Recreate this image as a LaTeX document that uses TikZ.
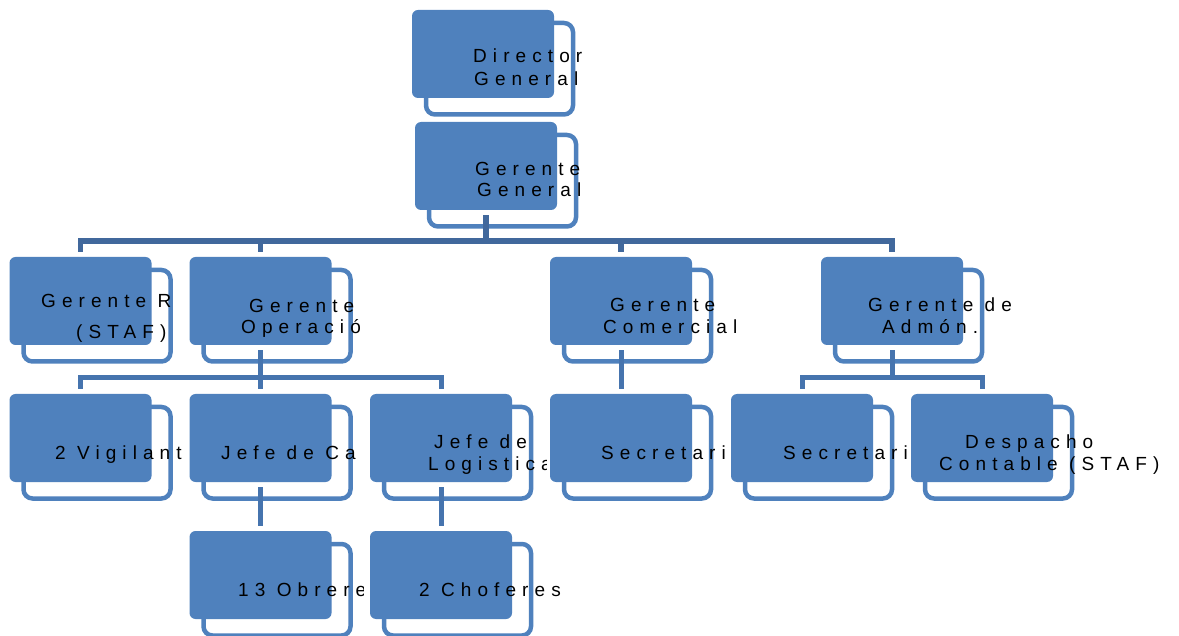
\documentclass[tikz,border=0pt]{standalone}
\usepackage{fontspec}
\newfontfamily\letrero[LetterSpace=32]{Liberation Sans}
\definecolor{cajaazul}{RGB}{79,129,189}
\definecolor{lineaosc}{RGB}{65,104,156}
\definecolor{lineaazul}{RGB}{70,116,174}
\tikzset{
  frente/.style={fill=cajaazul, rounded corners=6pt, minimum width=142pt, minimum height=88pt, inner sep=0pt},
  marco/.style={draw=cajaazul, fill=white, line width=4.5pt, rounded corners=9pt, minimum width=147pt, minimum height=91.5pt, inner sep=0pt},
  rama1/.style={draw=lineaosc, line width=5.5pt, shorten <=5pt, shorten >=5pt},
  rama/.style={draw=lineaazul, line width=5pt, shorten <=5pt, shorten >=5pt},
  texto/.style={anchor=base west, inner sep=0pt, text=black, font=\letrero\fontsize{19}{22}\selectfont}
}
\begin{document}
\begin{tikzpicture}[x=1pt, y=-1pt]
		\useasboundingbox (0,0) rectangle (1179,636);
		% cajas
		\node[marco] (directorm) at (499.5,68.75) {};
		\node[frente] (director) at (483,54) {};
		\node[marco] (gerentem) at (502.5,180.75) {};
		\node[frente] (gerente) at (486,166) {};
		\node[marco] (grhm) at (97,315.75) {};
		\node[frente] (grh) at (80.5,301) {};
		\node[marco] (gopm) at (277,315.75) {};
		\node[frente] (gop) at (260.5,301) {};
		\node[marco] (gcomm) at (637.5,315.75) {};
		\node[frente] (gcom) at (621,301) {};
		\node[marco] (gadmm) at (908.5,315.75) {};
		\node[frente] (gadm) at (892,301) {};
		\node[marco] (vigm) at (97,452.75) {};
		\node[frente] (vig) at (80.5,438) {};
		\node[marco] (jcamm) at (277,452.75) {};
		\node[frente] (jcam) at (260.5,438) {};
		\node[marco] (jlogm) at (457.5,452.75) {};
		\node[frente] (jlog) at (441,438) {};
		\node[marco] (seccomm) at (637.5,452.75) {};
		\node[frente] (seccom) at (621,438) {};
		\node[marco] (secadmm) at (818.5,452.75) {};
		\node[frente] (secadm) at (802,438) {};
		\node[marco] (despm) at (998.5,452.75) {};
		\node[frente] (desp) at (982,438) {};
		\node[marco] (obrm) at (277,589.75) {};
		\node[frente] (obr) at (260.5,575) {};
		\node[marco] (chofm) at (457.5,589.75) {};
		\node[frente] (chof) at (441,575) {};
		% lineas
		\draw[rama1] (gerente.south) -- ++(0,31) -| (grh.north);
		\draw[rama1] (gerente.south) -- ++(0,31) -| (gop.north);
		\draw[rama1] (gerente.south) -- ++(0,31) -| (gcom.north);
		\draw[rama1] (gerente.south) -- ++(0,31) -| (gadm.north);
		\draw[rama] (gop.south) -- ++(0,32.5) -| (vig.north);
		\draw[rama] (gop.south) -- ++(0,32.5) -| (jcam.north);
		\draw[rama] (gop.south) -- ++(0,32.5) -| (jlog.north);
		\draw[rama] (gcom.south) -- (seccom.north);
		\draw[rama] (gadm.south) -- ++(0,32.5) -| (secadm.north);
		\draw[rama] (gadm.south) -- ++(0,32.5) -| (desp.north);
		\draw[rama] (jcam.south) -- (obr.north);
		\draw[rama] (jlog.south) -- (chof.north);
		% textos
		\node[texto] (directort1) at (473,63) {Director};
		\node[texto] (directort2) at (474,86) {General};
		\node[texto] (gerentet1) at (475,176) {Gerente};
		\node[texto] (gerentet2) at (477,197) {General};
		\node[texto] (grht1) at (41,308) {Gerente R};
		\node[texto] (grht2) at (76,339) {(STAF)};
		\node[texto] (gopt1) at (249,313) {Gerente};
		\node[texto] (gopt2) at (241,334) {Operació};
		\node[texto] (gcomt1) at (610,312) {Gerente};
		\node[texto] (gcomt2) at (603,334) {Comercial};
		\node[texto] (gadmt1) at (868,312) {Gerente de};
		\node[texto] (gadmt2) at (882,334) {Admón.};
		\begin{scope}
		\clip (0,420) rectangle (185,480);
		\node[texto] (vigt) at (55,460) {2 Vigilant};
		\end{scope}
		\begin{scope}
		\clip (200,420) rectangle (362,480);
		\node[texto] (jcamt) at (221,460) {Jefe de Ca};
		\end{scope}
		\node[texto] (jlogt1) at (434,449) {Jefe de};
		\begin{scope}
		\clip (400,450) rectangle (546,480);
		\node[texto] (jlogt2) at (428,471) {Logistica};
		\end{scope}
		\node[texto] (seccomt) at (601,460) {Secretari};
		\node[texto] (secadmt) at (783,460) {Secretari};
		\node[texto] (despt1) at (965,449) {Despacho};
		\node[texto] (despt2) at (939,471) {Contable (STAF)};
		\begin{scope}
		\clip (220,560) rectangle (363,610);
		\node[texto] (obrt) at (238,596) {13 Obrere};
		\end{scope}
		\node[texto] (choft) at (419,596) {2 Choferes};
\end{tikzpicture}
\end{document}
